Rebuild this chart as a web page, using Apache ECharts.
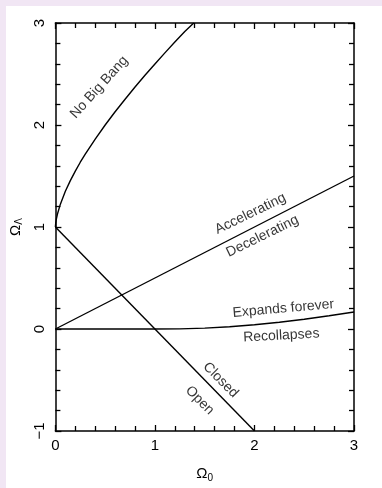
<!DOCTYPE html>
<html><head><meta charset="utf-8">
<script src="https://cdn.jsdelivr.net/npm/echarts@6/dist/echarts.min.js"></script>
<style>html,body{margin:0;padding:0;background:#fff;}#c{width:382px;height:488px;}
#frame{position:absolute;left:0;top:0;width:382px;height:488px;box-sizing:border-box;border-left:6px solid #f1e6f4;border-top:6px solid #f1e6f4;pointer-events:none;}</style>
</head><body><div id="c"></div><div id="frame"></div>
<script>
// Omega_0 values and Omega_Lambda readings
const noBigBangX = [0, 0.003, 0.01, 0.02, 0.05, 0.1, 0.15, 0.2, 0.25, 0.3, 0.4, 0.5, 0.6, 0.7, 0.8, 0.9, 1.0, 1.1, 1.2, 1.3, 1.39];
const noBigBangY = [1, 1.037, 1.08, 1.125, 1.224, 1.35, 1.455, 1.548, 1.635, 1.714, 1.862, 2.0, 2.13, 2.253, 2.372, 2.487, 2.598, 2.707, 2.813, 2.917, 3.0];
const accelX = [0, 3];
const accelY = [0, 1.5];
const closedX = [0, 2];
const closedY = [1, -1];
const expandX = [0, 1.0, 1.25, 1.5, 1.75, 2.0, 2.25, 2.5, 2.75, 3.0];
const expandY = [0, 0, 0.0015, 0.0086, 0.0224, 0.0419, 0.0664, 0.096, 0.1295, 0.1666];
const xTicks = [0, 1, 2, 3];
const yTicks = [-1, 0, 1, 2, 3];
const regionLabels = ['No Big Bang', 'Accelerating', 'Decelerating', 'Expands forever', 'Recollapses', 'Closed', 'Open'];
const labelX = [0.44, 1.96, 2.08, 2.29, 2.27, 1.66, 1.45];
const labelY = [2.37, 1.13, 0.91, 0.20, -0.065, -0.50, -0.70];
const labelAngle = [48, 26, 26, 5, 3, -45, -45];

const zip = (a, b) => a.map((v, i) => [v, b[i]]);
const font = 'Liberation Sans, Arial, sans-serif';
const lineStyle = {color: '#000', width: 1.4};
const tickCommon = () => ({
  axisLine: {show: true, onZero: false, lineStyle: {color: '#000', width: 1.5}},
  axisTick: {show: true, inside: true, length: 6, lineStyle: {color: '#000', width: 1.3}},
  minorTick: {show: true, splitNumber: 5, length: 5, lineStyle: {color: '#000', width: 1.3}},
  splitLine: {show: false}
});
const chart = echarts.init(document.getElementById('c'));
chart.setOption({
  animation: false,
  backgroundColor: '#fff',
  grid: {left: 44, right: 28, top: 23, bottom: 55},
  xAxis: [
    Object.assign({type: 'value', min: 0, max: 3, interval: 1, position: 'bottom',
      name: '{a|Ω}{b|0}', nameLocation: 'middle', nameGap: 34,
      nameTextStyle: {rich: {a: {fontSize: 15, fontFamily: font, color: '#000'}, b: {fontSize: 10, fontFamily: font, color: '#000', padding: [8, 0, 0, 0]}}},
      axisLabel: {show: true, margin: 7, fontSize: 15, fontFamily: font, color: '#000',
        formatter: v => xTicks.includes(v) ? String(v) : ''}}, tickCommon()),
    Object.assign({type: 'value', min: 0, max: 3, interval: 1, position: 'top', axisLabel: {show: false}}, tickCommon())
  ],
  yAxis: [
    Object.assign({type: 'value', min: -1, max: 3, interval: 1, position: 'left',
      name: '{a|Ω}{b|Λ}', nameLocation: 'middle', nameGap: 24, nameRotate: 90,
      nameTextStyle: {rich: {a: {fontSize: 15, fontFamily: font, color: '#000'}, b: {fontSize: 10, fontFamily: font, color: '#000', padding: [8, 0, 0, 0]}}},
      axisLabel: {show: true, rotate: 90, margin: 8, fontSize: 15, fontFamily: font, color: '#000',
        formatter: v => yTicks.includes(v) ? String(v).replace('-', '−') : ''}}, tickCommon()),
    Object.assign({type: 'value', min: -1, max: 3, interval: 1, position: 'right', axisLabel: {show: false}}, tickCommon())
  ],
  series: [
    {type: 'line', data: zip(noBigBangX, noBigBangY), showSymbol: false, lineStyle, clip: true},
    {type: 'line', data: zip(accelX, accelY), showSymbol: false, lineStyle},
    {type: 'line', data: zip(closedX, closedY), showSymbol: false, lineStyle},
    {type: 'line', data: zip(expandX, expandY), showSymbol: false, lineStyle},
    {type: 'scatter', symbolSize: 0, silent: true,
      data: regionLabels.map((t, i) => ({value: [labelX[i], labelY[i]],
        label: {show: true, position: 'inside', formatter: t, rotate: labelAngle[i],
          fontSize: 14, fontFamily: font, color: '#000'}}))}
  ]
});
</script></body></html>
